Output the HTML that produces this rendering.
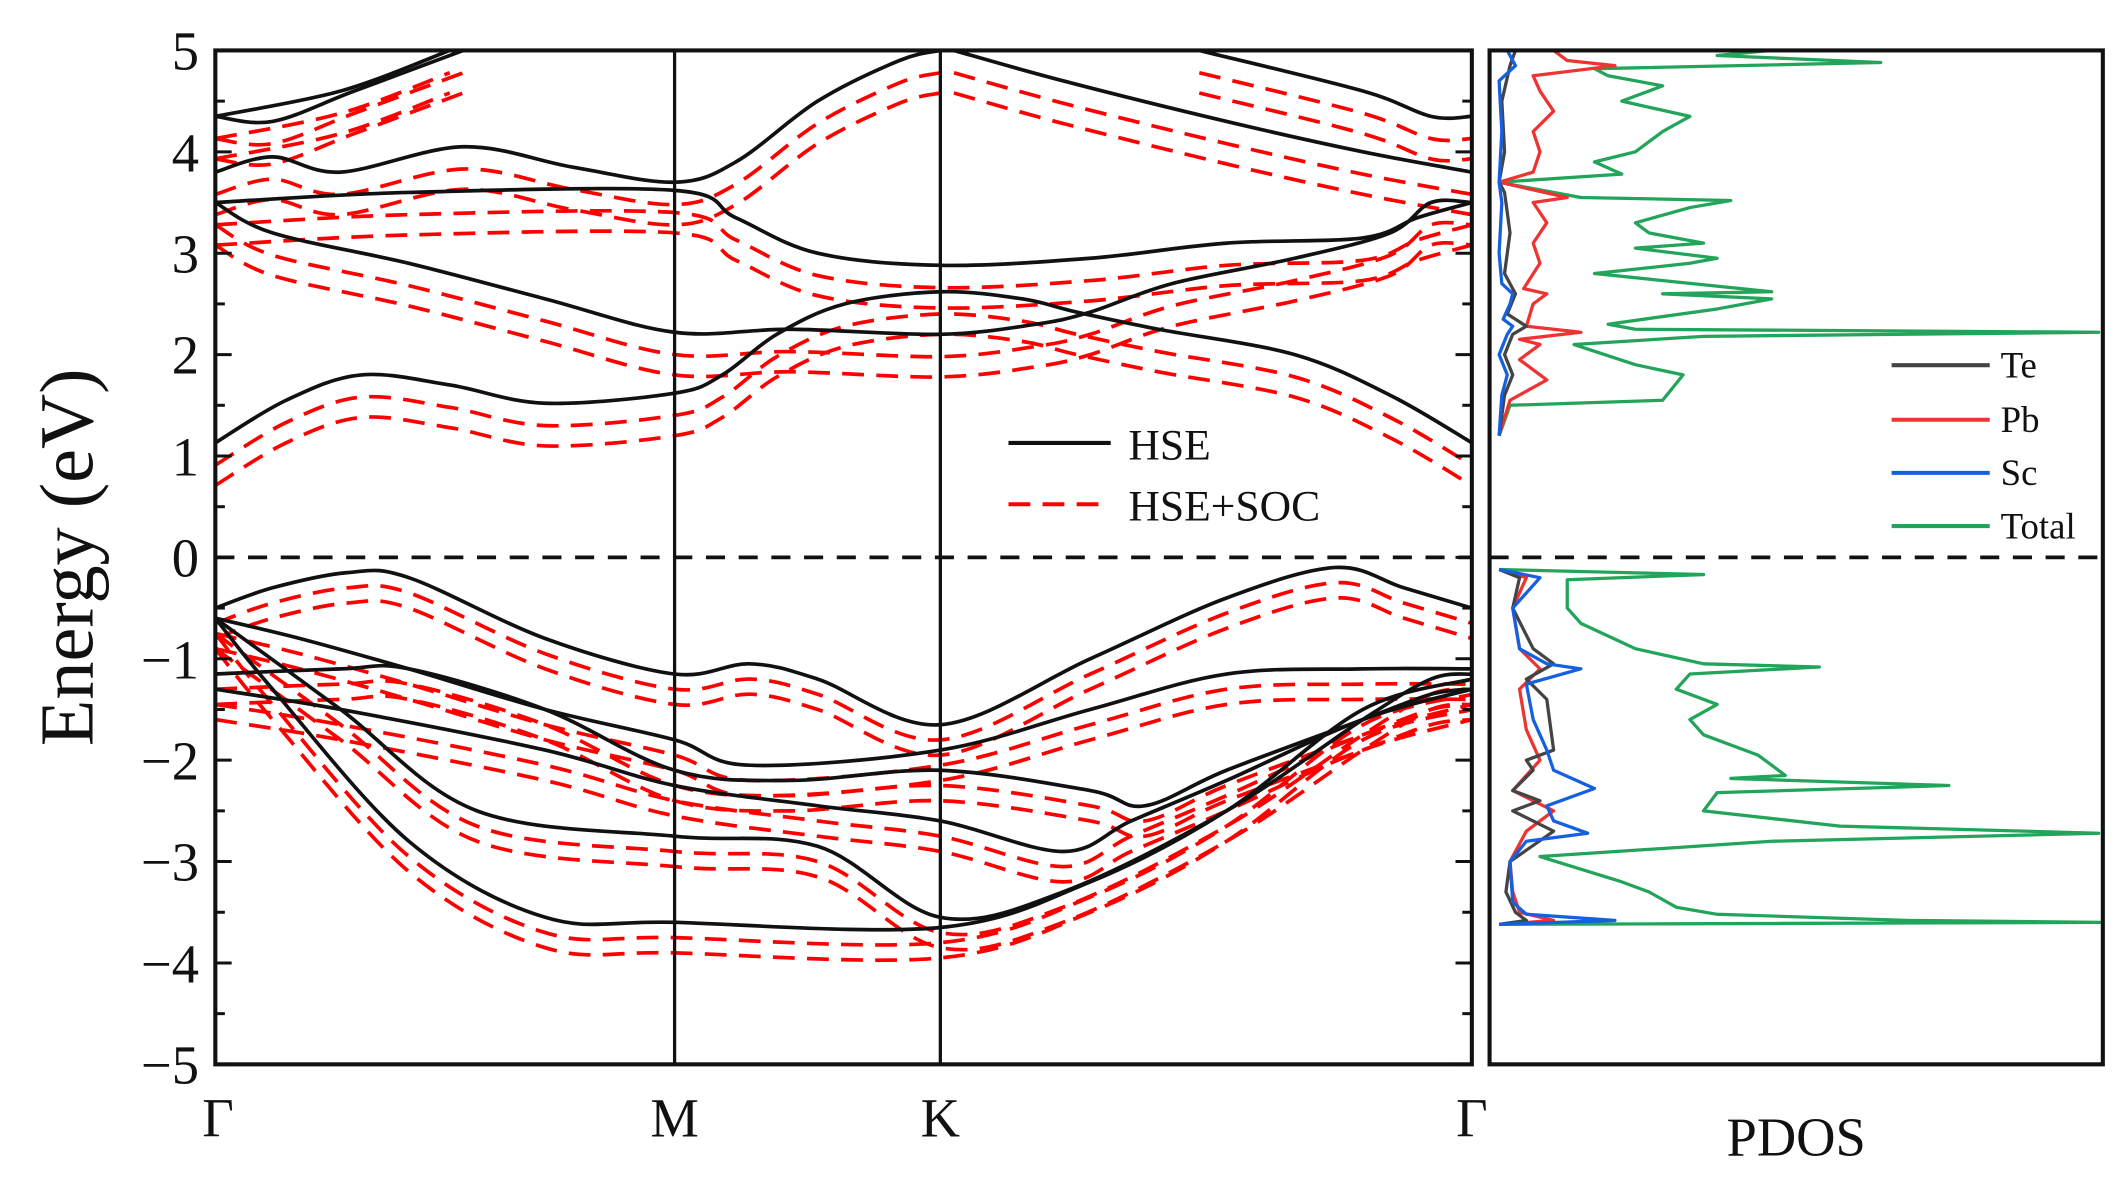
<!DOCTYPE html>
<html><head><meta charset="utf-8"><style>
html,body{margin:0;padding:0;background:#fff;}
svg{display:block;}
text{font-family:"Liberation Serif",serif;fill:#111;}
</style></head><body>
<svg id="s" width="2126" height="1178" viewBox="0 0 1560 864.4" preserveAspectRatio="none" xmlns="http://www.w3.org/2000/svg">
<g id="bands" fill="none"></g>
<g id="pdos" fill="none" stroke-width="2.4" stroke-linejoin="round"></g>
<rect x="158" y="37" width="922" height="744" fill="none" stroke="#111" stroke-width="3"/>
<rect x="1093" y="37" width="450" height="744" fill="none" stroke="#111" stroke-width="3"/>
<line x1="495" y1="37" x2="495" y2="781" stroke="#111" stroke-width="2.4"/>
<line x1="690" y1="37" x2="690" y2="781" stroke="#111" stroke-width="2.4"/>
<line x1="158" y1="409" x2="1080" y2="409" stroke="#111" stroke-width="2.8" stroke-dasharray="14,10"/>
<line x1="1093" y1="409" x2="1543" y2="409" stroke="#111" stroke-width="2.8" stroke-dasharray="14,10"/>
<g id="ticks" stroke="#111" stroke-width="2.2"></g>
<g font-size="40" text-anchor="end">
<text x="146" y="51">5</text><text x="146" y="126">4</text><text x="146" y="200">3</text><text x="146" y="274">2</text><text x="146" y="349">1</text><text x="146" y="423">0</text><text x="146" y="498">−1</text><text x="146" y="572">−2</text><text x="146" y="646">−3</text><text x="146" y="721">−4</text><text x="146" y="795">−5</text>
</g>
<g font-size="40" text-anchor="middle">
<text x="160" y="834">Γ</text><text x="495" y="834">M</text><text x="690" y="834">K</text><text x="1080" y="834">Γ</text>
<text x="1318" y="848">PDOS</text>
</g>
<text transform="translate(68,409) rotate(-90)" font-size="56" text-anchor="middle">Energy (eV)</text>
<line x1="740" y1="325" x2="815" y2="325" stroke="#111" stroke-width="3"/>
<line x1="740" y1="370" x2="815" y2="370" stroke="#f00" stroke-width="3" stroke-dasharray="16,9"/>
<text x="828" y="337" font-size="32">HSE</text>
<text x="828" y="382" font-size="32">HSE+SOC</text>
<line x1="1388" y1="268" x2="1460" y2="268" stroke="#444" stroke-width="3"/>
<line x1="1388" y1="308" x2="1460" y2="308" stroke="#e33" stroke-width="3"/>
<line x1="1388" y1="347" x2="1460" y2="347" stroke="#1560e0" stroke-width="3"/>
<line x1="1388" y1="386" x2="1460" y2="386" stroke="#22a55a" stroke-width="3"/>
<g font-size="27"><text x="1468" y="277">Te</text><text x="1468" y="317">Pb</text><text x="1468" y="356">Sc</text><text x="1468" y="395">Total</text></g>
</svg>
<script>
var NS="http://www.w3.org/2000/svg";
function Y(e){return 409-74.4*e;}
function el(p,t,a){var n=document.createElementNS(NS,t);for(var k in a)n.setAttribute(k,a[k]);p.appendChild(n);return n;}
function smooth(pts){var d="M"+pts[0][0]+","+pts[0][1];for(var i=0;i<pts.length-1;i++){var p0=pts[Math.max(0,i-1)],p1=pts[i],p2=pts[i+1],p3=pts[Math.min(pts.length-1,i+2)];var c1=[p1[0]+(p2[0]-p0[0])/6,p1[1]+(p2[1]-p0[1])/6],c2=[p2[0]-(p3[0]-p1[0])/6,p2[1]-(p3[1]-p1[1])/6];d+=" C"+c1[0].toFixed(1)+","+c1[1].toFixed(1)+" "+c2[0].toFixed(1)+","+c2[1].toFixed(1)+" "+p2[0]+","+p2[1].toFixed(1);}return d;}
var cb=[
[[158,1.13],[210,1.55],[265,1.8],[330,1.7],[400,1.52],[495,1.62],[530,1.8],[570,2.2],[620,2.5],[690,2.62],[750,2.55],[790,2.42],[850,2.25],[950,2.0],[1020,1.6],[1080,1.13]],
[[158,3.5],[200,3.2],[300,2.9],[400,2.55],[495,2.22],[580,2.25],[690,2.2],[760,2.3],[800,2.42],[860,2.7],[950,2.95],[1020,3.2],[1050,3.5],[1080,3.5]],
[[158,3.5],[300,3.6],[495,3.62],[540,3.35],[600,3.0],[690,2.88],[800,2.95],[900,3.1],[1000,3.15],[1040,3.35],[1080,3.5]],
[[158,3.8],[200,3.95],[250,3.8],[340,4.05],[420,3.85],[495,3.7],[540,3.9],[600,4.5],[660,4.9],[690,5.0]],
[[700,5.0],[780,4.7],[900,4.3],[1000,4.0],[1080,3.8]],
[[158,4.35],[200,4.3],[260,4.6],[340,5.0]],
[[158,4.35],[250,4.6],[330,5.0]],
[[880,5.0],[1000,4.6],[1050,4.35],[1080,4.35]]
];
var vb=[
[[158,-0.5],[200,-0.3],[255,-0.15],[300,-0.2],[400,-0.8],[495,-1.15],[550,-1.05],[600,-1.2],[690,-1.65],[800,-1.0],[900,-0.4],[980,-0.1],[1030,-0.3],[1080,-0.5]],
[[158,-0.6],[220,-0.8],[300,-1.1],[400,-1.5],[495,-1.8],[550,-2.05],[690,-1.9],[800,-1.5],[900,-1.15],[1000,-1.1],[1080,-1.1]],
[[158,-1.15],[250,-1.1],[300,-1.1],[400,-1.5],[495,-2.1],[580,-2.2],[690,-2.1],[800,-2.3],[840,-2.45],[900,-2.1],[1000,-1.6],[1050,-1.35],[1080,-1.3]],
[[158,-1.3],[250,-1.5],[400,-1.9],[495,-2.25],[600,-2.45],[690,-2.6],[780,-2.9],[830,-2.6],[900,-2.2],[1000,-1.6],[1080,-1.3]],
[[158,-0.6],[250,-1.5],[350,-2.5],[495,-2.75],[600,-2.85],[690,-3.55],[780,-3.3],[900,-2.5],[1000,-1.6],[1050,-1.2],[1080,-1.15]],
[[158,-0.6],[200,-1.3],[300,-2.8],[400,-3.55],[495,-3.6],[690,-3.65],[800,-3.2],[900,-2.5],[1000,-1.5],[1080,-1.2]]
];
var g=document.getElementById("bands");
var clip=el(g,"clipPath",{id:"cp"});el(clip,"rect",{x:158,y:37,width:922,height:744});
g.setAttribute("clip-path","url(#cp)");
function draw(list,shifts){list.forEach(function(b){shifts.forEach(function(s){el(g,"path",{d:smooth(b.map(function(p){return [p[0],Y(p[1]+s)];})),stroke:"#f00","stroke-width":2.7,"stroke-dasharray":"16,9"});});});}
draw(cb,[-0.22,-0.42]);draw(vb,[-0.15,-0.3]);
cb.concat(vb).forEach(function(b){el(g,"path",{d:smooth(b.map(function(p){return [p[0],Y(p[1])];})),stroke:"#111","stroke-width":2.7});});
var t=document.getElementById("ticks");
for(var e=-5;e<=5;e+=0.5){var y=Y(e);var L=(e%1===0)?12:7;el(t,"line",{x1:158,y1:y,x2:158+L,y2:y});el(t,"line",{x1:1080,y1:y,x2:1080-L,y2:y});}
var pd=document.getElementById("pdos");
function pl(pts,c){el(pd,"polyline",{points:pts.map(function(p){return p[0]+","+Y(p[1]).toFixed(1);}).join(" "),stroke:c});}
pl([[1100,1.2],[1108,1.5],[1220,1.55],[1235,1.8],[1200,1.9],[1155,2.1],[1250,2.18],[1540,2.22],[1200,2.25],[1180,2.3],[1260,2.45],[1300,2.55],[1220,2.6],[1300,2.62],[1170,2.8],[1240,2.9],[1260,2.95],[1200,3.05],[1250,3.1],[1210,3.2],[1200,3.3],[1240,3.45],[1270,3.52],[1160,3.55],[1100,3.7],[1190,3.78],[1170,3.9],[1200,4.0],[1220,4.2],[1240,4.35],[1190,4.5],[1220,4.65],[1180,4.75],[1170,4.82],[1380,4.88],[1260,4.95],[1300,5.0]],"#22a55a");
pl([[1100,-0.12],[1250,-0.17],[1150,-0.22],[1150,-0.5],[1160,-0.65],[1200,-0.9],[1250,-1.05],[1335,-1.08],[1240,-1.15],[1230,-1.3],[1260,-1.45],[1240,-1.6],[1250,-1.75],[1290,-1.95],[1300,-2.05],[1310,-2.15],[1270,-2.18],[1430,-2.25],[1260,-2.32],[1250,-2.5],[1350,-2.65],[1540,-2.72],[1300,-2.8],[1130,-2.95],[1190,-3.2],[1210,-3.3],[1230,-3.45],[1260,-3.52],[1400,-3.58],[1543,-3.6],[1100,-3.62]],"#22a55a");
pl([[1100,1.2],[1108,1.55],[1135,1.75],[1115,1.95],[1130,2.1],[1115,2.15],[1160,2.22],[1120,2.28],[1125,2.5],[1135,2.6],[1118,2.65],[1130,2.9],[1125,3.1],[1135,3.3],[1125,3.5],[1150,3.55],[1100,3.7],[1125,3.8],[1130,4.0],[1125,4.2],[1140,4.4],[1130,4.6],[1125,4.75],[1185,4.85],[1150,4.9],[1140,5.0]],"#e33");
pl([[1100,-0.12],[1120,-0.2],[1110,-0.5],[1115,-0.9],[1130,-1.1],[1115,-1.3],[1120,-1.7],[1130,-2.0],[1110,-2.3],[1140,-2.5],[1120,-2.7],[1108,-3.0],[1110,-3.3],[1115,-3.5],[1140,-3.58],[1100,-3.62]],"#e33");
pl([[1100,1.2],[1104,1.6],[1110,1.8],[1104,2.0],[1110,2.2],[1120,2.28],[1106,2.4],[1112,2.6],[1104,2.8],[1108,3.2],[1104,3.6],[1100,3.7],[1104,4.0],[1102,4.5],[1108,4.85],[1112,5.0]],"#444");
pl([[1100,1.2],[1102,1.6],[1106,1.8],[1100,2.0],[1106,2.2],[1110,2.28],[1103,2.35],[1108,2.5],[1110,2.6],[1102,2.7],[1100,3.0],[1102,3.5],[1100,3.7],[1102,4.2],[1100,4.7],[1112,4.85],[1106,5.0]],"#1560e0");
pl([[1100,-0.12],[1115,-0.2],[1110,-0.5],[1125,-0.9],[1140,-1.05],[1120,-1.2],[1135,-1.4],[1140,-1.9],[1120,-2.0],[1125,-2.1],[1110,-2.3],[1130,-2.4],[1110,-2.5],[1140,-2.7],[1108,-3.0],[1105,-3.3],[1112,-3.5],[1120,-3.58],[1100,-3.62]],"#444");
pl([[1100,-0.12],[1130,-0.2],[1110,-0.5],[1115,-0.9],[1135,-1.05],[1160,-1.1],[1120,-1.25],[1125,-1.6],[1135,-1.9],[1140,-2.1],[1170,-2.28],[1135,-2.45],[1140,-2.6],[1165,-2.72],[1120,-2.8],[1108,-3.0],[1110,-3.4],[1120,-3.52],[1185,-3.58],[1100,-3.62]],"#1560e0");
</script>
</body></html>
